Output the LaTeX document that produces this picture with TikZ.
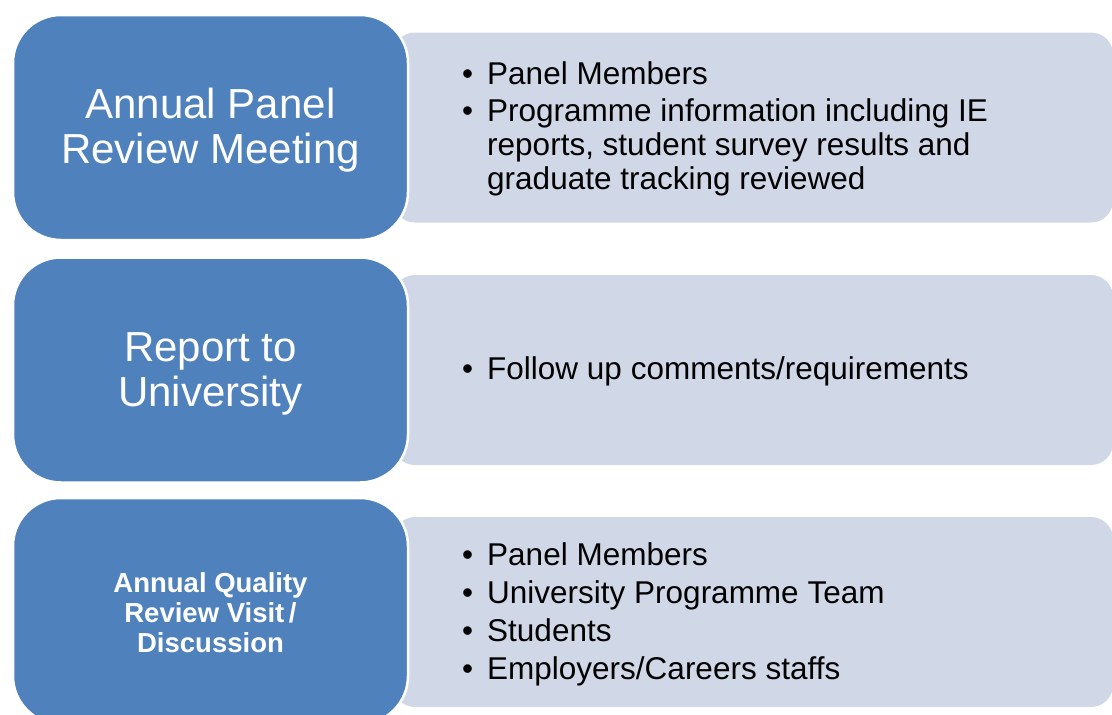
\documentclass[tikz,border=0pt]{standalone}
\usepackage{fontspec}
\setmainfont{Liberation Sans}
\definecolor{bluebox}{HTML}{4F81BD}
\definecolor{graybox}{HTML}{D0D8E8}
\begin{document}
\begin{tikzpicture}[x=1pt,y=-1pt,
  head/.style={rectangle, rounded corners=48pt, fill=bluebox, draw=white, line width=2.5pt,
    minimum width=395pt, minimum height=225pt, inner sep=0pt},
  headtext/.style={inner sep=0pt, text=white, align=center, font=\fontsize{42}{45}\selectfont},
  body/.style={rectangle, rounded corners=22pt, fill=graybox, minimum width=720pt,
    minimum height=190pt, inner sep=0pt},
  itemtext/.style={anchor=west, inner sep=0pt, align=left, font=\fontsize{31.5}{34}\selectfont}]
\useasboundingbox (0,0) rectangle (1112,715);
\clip (0,0) rectangle (1112,715);
% gray body boxes
\node[body] (b1) at (753,127.5) {};
\node[body] (b2) at (753,370) {};
\node[body] (b3) at (753,612) {};
% blue head boxes
\node[head] (h1) at (210.5,127.5) {};
\node[head] (h2) at (210.5,370) {};
\node[head, minimum height=226pt] (h3) at (210.5,611) {};
% head texts
\node[headtext] (l1) at (210.5,130.5) {Annual Panel\\Review Meeting};
\node[headtext] (l2) at (210.5,374) {Report to\\University};
\node[headtext, font=\bfseries\fontsize{27.5}{30}\selectfont] (l3) at (210.5,613) {Annual Quality\\Review Visit\,/\\Discussion};
% texts
\node[itemtext] (t1) at (462,130) {\begin{tabular}{@{}l@{\hspace{14pt}}l@{}}
\textbullet & Panel Members\\[3pt]
\textbullet & Programme information including IE\\
 & reports, student survey results and\\
 & graduate tracking reviewed
\end{tabular}};
\node[itemtext] (t2) at (462,373) {\begin{tabular}{@{}l@{\hspace{14pt}}l@{}}
\textbullet & Follow up comments/requirements
\end{tabular}};
\node[itemtext] (t3) at (462,616) {\begin{tabular}{@{}l@{\hspace{14pt}}l@{}}
\textbullet & Panel Members\\[4pt]
\textbullet & University Programme Team\\[4pt]
\textbullet & Students\\[4pt]
\textbullet & Employers/Careers staffs
\end{tabular}};
\end{tikzpicture}
\end{document}
